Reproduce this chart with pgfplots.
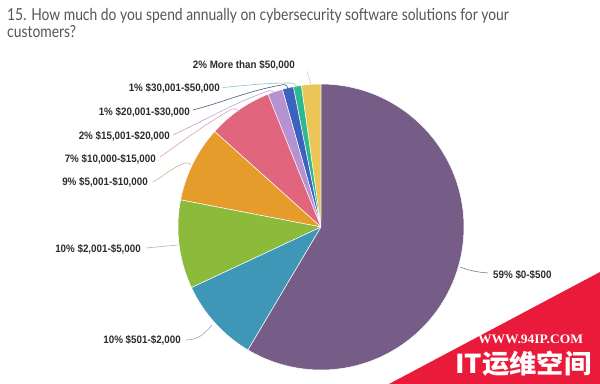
\documentclass[border=0pt]{standalone}
\usepackage{pgfplots}
\pgfplotsset{compat=1.18}
\usepackage{fontspec}
\setmainfont{Liberation Sans}
\newfontfamily\titlefont{Lato}
\newfontfamily\serifw{Liberation Serif}
\newfontfamily\cjk{Noto Sans CJK SC}
\definecolor{cPur}{HTML}{765D87}
\definecolor{cBlu}{HTML}{3F97B8}
\definecolor{cGre}{HTML}{8CBA3A}
\definecolor{cOra}{HTML}{E69C2B}
\definecolor{cPin}{HTML}{E2657E}
\definecolor{cLpu}{HTML}{B593D3}
\definecolor{cDbl}{HTML}{3A62BE}
\definecolor{cTea}{HTML}{2DB88E}
\definecolor{cYel}{HTML}{EBC656}
\definecolor{lYel}{HTML}{D8D0A8}
\definecolor{lTea}{HTML}{7CC9C0}
\definecolor{lDbl}{HTML}{4A5A70}
\definecolor{lLpu}{HTML}{B9A5D5}
\definecolor{lPin}{HTML}{D8A0B0}
\definecolor{lOra}{HTML}{C8B690}
\definecolor{lGre}{HTML}{B0B890}
\definecolor{lBlu}{HTML}{8FA8B8}
\definecolor{lPur}{HTML}{7A7A8A}
\definecolor{txt}{HTML}{2B2B2B}
\definecolor{ttl}{HTML}{555555}
\definecolor{wmred}{HTML}{EA1A3A}
% slice values (percent)
\def\vYel{2.2}
\def\vTea{0.9}
\def\vDbl{1.25}
\def\vLpu{1.7}
\def\vPin{7.3}
\def\vOra{8.6}
\def\vGre{10.0}
\def\vBlu{9.5}
\def\vPur{58.5}
\newcommand\lab{\bfseries\fontsize{9.8bp}{11bp}\selectfont\color{txt}}
\newcommand\LB[1]{\scalebox{1}[1.1]{#1}}
\newcommand\TT[1]{\scalebox{0.99}[1.18]{\titlefont\fontsize{14bp}{17bp}\selectfont #1}}
\begin{document}
\begin{tikzpicture}
\pgfmathsetmacro\tot{\vYel+\vTea+\vDbl+\vLpu+\vPin+\vOra+\vGre+\vBlu+\vPur}
\pgfmathsetmacro\aA{90+360*\vYel/\tot}
\pgfmathsetmacro\aB{\aA+360*\vTea/\tot}
\pgfmathsetmacro\aC{\aB+360*\vDbl/\tot}
\pgfmathsetmacro\aD{\aC+360*\vLpu/\tot}
\pgfmathsetmacro\aE{\aD+360*\vPin/\tot}
\pgfmathsetmacro\aF{\aE+360*\vOra/\tot}
\pgfmathsetmacro\aG{\aF+360*\vGre/\tot}
\pgfmathsetmacro\aH{\aG+360*\vBlu/\tot}
\begin{axis}[at={(0,0)}, anchor=south west,
  width=600bp, height=384bp, scale only axis,
  xmin=0, xmax=600, ymin=0, ymax=384, y dir=reverse,
  hide axis, clip=false]
\addplot[fill=cYel, draw=white, line width=0.5pt, domain=90:\aA, samples=8] ({321+143*cos(x)},{227-143*sin(x)}) -- (axis cs:321,227) -- cycle;
\addplot[fill=cTea, draw=white, line width=0.5pt, domain=\aA:\aB, samples=6] ({321+143*cos(x)},{227-143*sin(x)}) -- (axis cs:321,227) -- cycle;
\addplot[fill=cDbl, draw=white, line width=0.5pt, domain=\aB:\aC, samples=6] ({321+143*cos(x)},{227-143*sin(x)}) -- (axis cs:321,227) -- cycle;
\addplot[fill=cLpu, draw=white, line width=0.5pt, domain=\aC:\aD, samples=8] ({321+143*cos(x)},{227-143*sin(x)}) -- (axis cs:321,227) -- cycle;
\addplot[fill=cPin, draw=white, line width=0.5pt, domain=\aD:\aE, samples=20] ({321+143*cos(x)},{227-143*sin(x)}) -- (axis cs:321,227) -- cycle;
\addplot[fill=cOra, draw=white, line width=0.5pt, domain=\aE:\aF, samples=20] ({321+143*cos(x)},{227-143*sin(x)}) -- (axis cs:321,227) -- cycle;
\addplot[fill=cGre, draw=white, line width=0.5pt, domain=\aF:\aG, samples=24] ({321+143*cos(x)},{227-143*sin(x)}) -- (axis cs:321,227) -- cycle;
\addplot[fill=cBlu, draw=white, line width=0.5pt, domain=\aG:\aH, samples=24] ({321+143*cos(x)},{227-143*sin(x)}) -- (axis cs:321,227) -- cycle;
\addplot[fill=cPur, draw=white, line width=0.5pt, domain=\aH:450, samples=100] ({321+143*cos(x)},{227-143*sin(x)}) -- (axis cs:321,227) -- cycle;
% leader lines
\draw[lYel, line width=0.6pt] (axis cs:307,71) to[out=-80,in=95] (axis cs:311,86);
\draw[lTea, line width=0.6pt] (axis cs:223,87.5) to[out=5,in=180] (axis cs:290,83) to[out=0,in=100] (axis cs:297,88);
\draw[lDbl, line width=0.6pt] (axis cs:193,110) to[out=15,in=190] (axis cs:284,84.5) to[out=10,in=100] (axis cs:288,89);
\draw[lLpu, line width=0.6pt] (axis cs:173,135) to[out=25,in=200] (axis cs:268,91) to[out=20,in=110] (axis cs:275,93);
\draw[lPin, line width=0.6pt] (axis cs:160,157) to[out=35,in=210] (axis cs:232,109) to[out=30,in=120] (axis cs:239,112);
\draw[lOra, line width=0.6pt] (axis cs:153,182) to[out=30,in=200] (axis cs:185,163) to[out=20,in=140] (axis cs:191,165);
\draw[lGre, line width=0.6pt] (axis cs:146,248) -- (axis cs:178,245);
\draw[lBlu, line width=0.6pt] (axis cs:186,340) to[out=0,in=230] (axis cs:212,325);
\draw[lPur, line width=0.6pt] (axis cs:460,267) to[out=-20,in=175] (axis cs:488,273);
% labels
\node[anchor=base east, inner sep=0, font=\lab] at (axis cs:295,68.8) {\LB{2\% More than \$50,000}};
\node[anchor=base east, inner sep=0, font=\lab] at (axis cs:220,91.8) {\LB{1\% \$30,001-\$50,000}};
\node[anchor=base east, inner sep=0, font=\lab] at (axis cs:190,115.8) {\LB{1\% \$20,001-\$30,000}};
\node[anchor=base east, inner sep=0, font=\lab] at (axis cs:170,139.3) {\LB{2\% \$15,001-\$20,000}};
\node[anchor=base east, inner sep=0, font=\lab] at (axis cs:156,162.8) {\LB{7\% \$10,000-\$15,000}};
\node[anchor=base east, inner sep=0, font=\lab] at (axis cs:148,185.8) {\LB{9\% \$5,001-\$10,000}};
\node[anchor=base east, inner sep=0, font=\lab] at (axis cs:141,252.3) {\LB{10\% \$2,001-\$5,000}};
\node[anchor=base east, inner sep=0, font=\lab] at (axis cs:181,343.3) {\LB{10\% \$501-\$2,000}};
\node[anchor=base west, inner sep=0, font=\lab] at (axis cs:493,278.3) {\LB{59\% \$0-\$500}};
% title
\node[anchor=base west, inner sep=0, text=ttl] at (axis cs:7,20.3) {\TT{15. How much do you spend annually on cybersecurity software solutions for your}};
\node[anchor=base west, inner sep=0, text=ttl] at (axis cs:7,37.3) {\TT{customers?}};
% watermark
\fill[wmred] (axis cs:389,384) -- (axis cs:600,272) -- (axis cs:600,384) -- cycle;
\node[anchor=base west, inner sep=0, text=white] at (axis cs:478,343.5) {\scalebox{1.04}[1]{\serifw\bfseries\fontsize{13bp}{15bp}\selectfont WWW.94IP.COM}};
\node[anchor=base west, inner sep=0, text=white] at (axis cs:455,373) {\scalebox{1.05}[1]{\cjk\bfseries\fontsize{26bp}{28bp}\selectfont IT运维空间}};
\end{axis}
\pgfresetboundingbox
\path[use as bounding box] (0,0) rectangle (600bp,384bp);
\end{tikzpicture}
\end{document}
